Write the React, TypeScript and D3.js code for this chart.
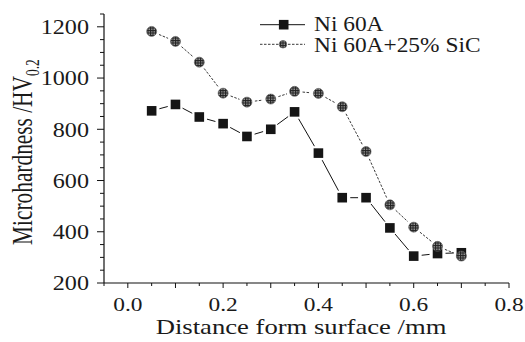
import React from "react";
import { scaleLinear, line } from "d3";

const distances = [0.05, 0.1, 0.15, 0.2, 0.25, 0.3, 0.35, 0.4, 0.45, 0.5, 0.55, 0.6, 0.65, 0.7];
const ni60a = [872, 897, 848, 822, 772, 800, 868, 707, 533, 533, 415, 305, 315, 318];
const ni60aSic = [1182, 1143, 1062, 941, 906, 918, 948, 940, 888, 713, 505, 418, 343, 305];

const xTickLabels = [0.0, 0.2, 0.4, 0.6, 0.8];
const xMinorTicks = [-0.05, 0, 0.05, 0.1, 0.15, 0.2, 0.25, 0.3, 0.35, 0.4, 0.45, 0.5, 0.55, 0.6, 0.65, 0.7, 0.75, 0.8];
const yTickLabels = [200, 400, 600, 800, 1000, 1200];
const yMinorTicks = [200, 250, 300, 350, 400, 450, 500, 550, 600, 650, 700, 750, 800, 850, 900, 950, 1000, 1050, 1100, 1150, 1200, 1250];

const seriesNames = ["Ni 60A", "Ni 60A+25% SiC"];

const FONT = "'Liberation Serif', 'Times New Roman', serif";

function SText({ x, y, sx = 1, size, anchor = "start", children }) {
  return (
    <text
      transform={`translate(${x},${y}) scale(${sx},1)`}
      fontFamily={FONT}
      fontSize={size}
      textAnchor={anchor}
      fill="#1a1a1a"
    >
      {children}
    </text>
  );
}

function gappedSegments(pts, gap) {
  const segs = [];
  for (let i = 0; i < pts.length - 1; i++) {
    const [x1, y1] = pts[i];
    const [x2, y2] = pts[i + 1];
    const len = Math.hypot(x2 - x1, y2 - y1);
    if (len <= gap * 2 + 1) continue;
    const ux = (x2 - x1) / len;
    const uy = (y2 - y1) / len;
    segs.push([
      [x1 + ux * gap, y1 + uy * gap],
      [x2 - ux * gap, y2 - uy * gap],
    ]);
  }
  return segs;
}

export default function App() {
  const width = 525;
  const height = 342;
  const x = scaleLinear().domain([-0.05, 0.8]).range([104, 509]);
  const y = scaleLinear().domain([200, 1250]).range([283, 14]);
  const lineGen = line();

  const niPts = distances.map((d, i) => [x(d), y(ni60a[i])]);
  const sicPts = distances.map((d, i) => [x(d), y(ni60aSic[i])]);

  const square = (cx, cy, k) => (
    <rect key={k} x={cx - 4.8} y={cy - 4.8} width={9.6} height={9.6} fill="#151515" />
  );
  const dot = (cx, cy, k, r = 5) => (
    <circle key={k} cx={cx} cy={cy} r={r} fill="url(#hatch)" stroke="#555" strokeWidth={0.6} />
  );

  const isTenth = (v) => Math.abs(Math.round(v * 10) - v * 10) < 1e-6;

  return (
    <svg
      width={width}
      height={height}
      style={{ position: "absolute", left: 0, top: 0, background: "#fff" }}
    >
      <defs>
        <pattern id="hatch" width={2.5} height={2.5} patternUnits="userSpaceOnUse">
          <rect width={2.5} height={2.5} fill="#222" />
          <rect x={1.2} y={1.2} width={1.1} height={1.1} fill="#eee" />
        </pattern>
      </defs>

      {/* axes */}
      <line x1={104} x2={104} y1={y(1250)} y2={283} stroke="#111" strokeWidth={1.2} />
      <line x1={104} x2={509} y1={283} y2={283} stroke="#111" strokeWidth={1.2} />
      {yMinorTicks.map((v) => (
        <line
          key={"ym" + v}
          x1={yTickLabels.includes(v) ? 97 : 100}
          x2={104}
          y1={y(v)}
          y2={y(v)}
          stroke="#111"
          strokeWidth={1}
        />
      ))}
      {xMinorTicks.map((v) => (
        <line
          key={"xm" + v}
          x1={x(v)}
          x2={x(v)}
          y1={283}
          y2={isTenth(v) ? 288 : 286}
          stroke="#111"
          strokeWidth={1}
        />
      ))}
      {yTickLabels.map((v) => (
        <SText key={"yl" + v} x={89} y={y(v) + 7.3} size={21} anchor="end" sx={1.15}>
          {v}
        </SText>
      ))}
      {xTickLabels.map((v) => (
        <SText key={"xl" + v} x={x(v)} y={311} size={19.5} anchor="middle" sx={1.2}>
          {v.toFixed(1)}
        </SText>
      ))}
      <SText x={301} y={334} size={20.5} anchor="middle" sx={1.3}>
        Distance form surface /mm
      </SText>
      <text
        transform="translate(32,152) rotate(-90) scale(0.97,1.3)"
        fontFamily={FONT}
        fontSize={22}
        textAnchor="middle"
        fill="#1a1a1a"
      >
        Microhardness /HV
        <tspan fontSize={14} dy={5}>0.2</tspan>
      </text>

      {/* series lines */}
      {gappedSegments(niPts, 8).map((s, i) => (
        <path key={"nl" + i} d={lineGen(s)} stroke="#111" strokeWidth={1} fill="none" />
      ))}
      {gappedSegments(sicPts, 8).map((s, i) => (
        <path
          key={"sl" + i}
          d={lineGen(s)}
          stroke="#222"
          strokeWidth={0.9}
          strokeDasharray="2.5,1.5"
          fill="none"
        />
      ))}
      {niPts.map((p, i) => square(p[0], p[1], "ns" + i))}
      {sicPts.map((p, i) => dot(p[0], p[1], "sd" + i))}

      {/* legend */}
      <line x1={260} x2={305} y1={24.7} y2={24.7} stroke="#111" strokeWidth={1} />
      {square(283.7, 24.7, "lg1")}
      <line x1={260} x2={305} y1={44.3} y2={44.3} stroke="#222" strokeWidth={0.9} strokeDasharray="2.5,1.5" />
      {dot(283, 44.3, "lg2", 3.8)}
      <SText x={314} y={31} size={20} sx={1.17}>
        {seriesNames[0]}
      </SText>
      <SText x={314} y={52} size={20} sx={1.17}>
        {seriesNames[1]}
      </SText>
    </svg>
  );
}
